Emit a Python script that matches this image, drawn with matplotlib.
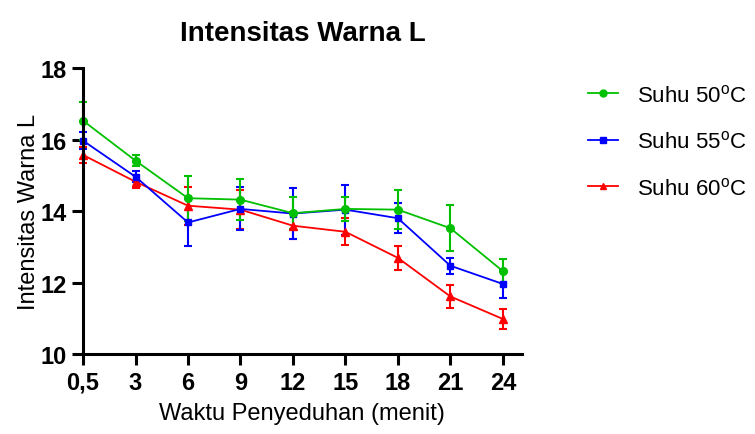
import numpy as np
import matplotlib
matplotlib.use("Agg")
import matplotlib.pyplot as plt

plt.rcParams['font.family'] = ['Liberation Sans', 'DejaVu Sans']
plt.rcParams['mathtext.fontset'] = 'custom'
plt.rcParams['mathtext.rm'] = 'Liberation Sans'

waktu = ['0,5', '3', '6', '9', '12', '15', '18', '21', '24']

suhu50 = [16.53, 15.41, 14.36, 14.32, 13.94, 14.06, 14.04, 13.52, 12.32]
err50 = [0.53, 0.15, 0.63, 0.58, 0.45, 0.33, 0.54, 0.64, 0.34]

suhu55 = [15.97, 14.96, 13.68, 14.06, 13.93, 14.04, 13.80, 12.47, 11.96]
err55 = [0.23, 0.15, 0.67, 0.60, 0.71, 0.70, 0.42, 0.22, 0.40]

suhu60 = [15.57, 14.82, 14.15, 14.04, 13.59, 13.42, 12.69, 11.61, 10.98]
err60 = [0.22, 0.18, 0.53, 0.54, 0.38, 0.38, 0.34, 0.32, 0.29]

fig = plt.figure(figsize=(7.55, 4.35), dpi=100)
ax = fig.add_axes([0.110, 0.184, 0.581, 0.657])

x = np.arange(len(waktu))
series = [
    (suhu60, err60, '#ff0000', '^', 'Suhu 60$^{\\mathrm{o}}$C', 6),
    (suhu55, err55, '#0000ff', 's', 'Suhu 55$^{\\mathrm{o}}$C', 5),
    (suhu50, err50, '#00c000', 'o', 'Suhu 50$^{\\mathrm{o}}$C', 5.5),
]
handles = {}
for vals, err, col, mk, lab, ms in series:
    h = ax.errorbar(x, vals, yerr=err, color=col, marker=mk, markersize=ms,
                    linewidth=1.3, elinewidth=1.5, capsize=3, capthick=1.5,
                    label=lab, clip_on=False)
    handles[lab] = h

order = ['Suhu 50$^{\\mathrm{o}}$C', 'Suhu 55$^{\\mathrm{o}}$C', 'Suhu 60$^{\\mathrm{o}}$C']
leg_h = [ax.plot([], [], color=handles[k][0].get_color(),
                 marker=handles[k][0].get_marker(), markersize=5,
                 linewidth=1.3)[0] for k in order]
fig.legend(leg_h, order, loc='upper left', bbox_to_anchor=(0.752, 0.85),
           frameon=False, fontsize=16, labelspacing=1.1, handlelength=1.35,
           handletextpad=0.85)

ax.set_xlim(0, 8.36)
ax.set_ylim(10, 18)
ax.set_xticks(x)
ax.set_xticklabels(waktu)
ax.set_yticks([10, 12, 14, 16, 18])
for lbl in ax.get_xticklabels() + ax.get_yticklabels():
    lbl.set_fontweight('bold')
    lbl.set_fontsize(17)

ax.spines['top'].set_visible(False)
ax.spines['right'].set_visible(False)
ax.spines['left'].set_linewidth(2.2)
ax.spines['bottom'].set_linewidth(2.2)
ax.tick_params(direction='out', length=8, width=2.2, pad=4)

ax.set_xlabel('Waktu Penyeduhan (menit)', fontsize=17, labelpad=6)
ax.set_ylabel('Intensitas Warna L', fontsize=17, labelpad=0)
ax.set_title('Intensitas Warna L', fontsize=20, fontweight='bold', pad=20)

fig.savefig('out.png', dpi=100)
